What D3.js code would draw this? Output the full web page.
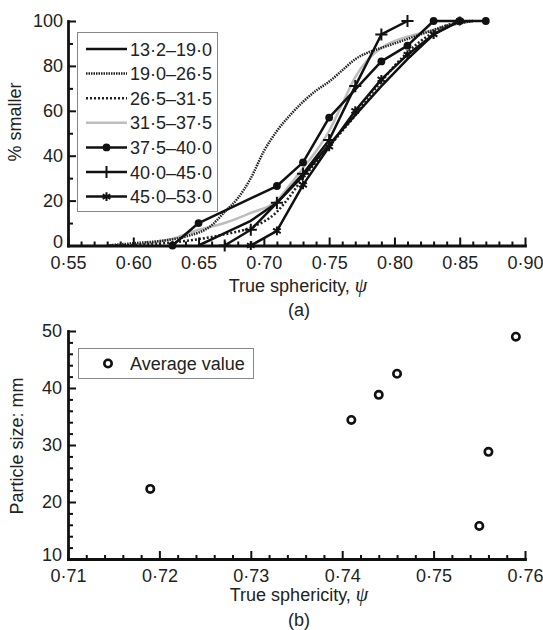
<!DOCTYPE html>
<html><head><meta charset="utf-8">
<script src="https://cdn.jsdelivr.net/npm/d3@7"></script>
<style>
body{margin:0;background:#fff}
text{font-family:Arial,"Liberation Sans",sans-serif;fill:#222}
</style>
</head><body>
<svg id="c" width="543" height="630"></svg>
<script>
// ---------- Data: panel (a) ----------
const legendLabels = ["13·2–19·0","19·0–26·5","26·5–31·5","31·5–37·5","37·5–40·0","40·0–45·0","45·0–53·0"];
const s1X = [0.65,0.67,0.69,0.71,0.73,0.75,0.77,0.79,0.81,0.83,0.85];
const s1Y = [0,5.5,11,19,31,45,58,71,83,94,100];
const s2X = [0.58,0.60,0.62,0.64,0.66,0.67,0.68,0.69,0.70,0.71,0.72,0.73,0.74,0.75,0.76,0.77,0.78,0.79,0.80,0.81,0.82,0.83,0.84,0.85,0.86];
const s2Y = [0,1,2,4,9,15,21,30,42,51,58,64,69,73,78,83,86,88,90,92,94,96,98,99,100];
const s3X = [0.58,0.61,0.64,0.67,0.69,0.71,0.72,0.73,0.74,0.75,0.76,0.77,0.78,0.79,0.80,0.81,0.82,0.83,0.84,0.85,0.86];
const s3Y = [0,0.5,2,5,8,15,22,30,37,44,51,58,66,73,80,86,91,95,98,99.5,100];
const s4X = [0.60,0.63,0.65,0.67,0.69,0.71,0.72,0.73,0.74,0.75,0.76,0.77,0.78,0.79,0.80,0.81,0.83,0.85,0.86];
const s4Y = [0,3,7,10,14.5,20,27,34.5,42,51,63,75,83,88,91,93,96,99,100];
const s5X = [0.63,0.65,0.71,0.73,0.75,0.79,0.81,0.83,0.85,0.87];
const s5Y = [0,10,26.5,37,57,82,89,100,100,100];
const s6X = [0.67,0.69,0.71,0.73,0.75,0.77,0.79,0.81];
const s6Y = [0,7,19,32,47,71,94,100];
const s7X = [0.69,0.71,0.73,0.75,0.77,0.79,0.81,0.83,0.85];
const s7Y = [0,6.5,27,44,60,74,85,94,100];
const xTicksA = [0.55,0.60,0.65,0.70,0.75,0.80,0.85,0.90];
const yTicksA = [0,20,40,60,80,100];

// ---------- Data: panel (b) ----------
const bX = [0.755,0.719,0.756,0.741,0.744,0.746,0.759];
const bY = [15.8,22.3,28.8,34.4,38.8,42.5,49.0];
const bLegend = "Average value";
const xTicksB = [0.71,0.72,0.73,0.74,0.75,0.76];
const yTicksB = [10,20,30,40,50];

// ---------- Styles ----------
const styles = [
  {stroke:"#111", dash:null, marker:null},
  {stroke:"#222", dash:"1.5 1", marker:null, curve:true},
  {stroke:"#222", dash:"2 2", marker:null, curve:true},
  {stroke:"#bdbdbd", dash:null, marker:null, curve:true},
  {stroke:"#111", dash:null, marker:"circle"},
  {stroke:"#111", dash:null, marker:"plus"},
  {stroke:"#111", dash:null, marker:"star"}
];
const seriesA = [[s1X,s1Y],[s2X,s2Y],[s3X,s3Y],[s4X,s4Y],[s5X,s5Y],[s6X,s6Y],[s7X,s7Y]];

const dotFmt = d => d3.format(".2f")(d).replace(".", "·");
const svg = d3.select("#c");
svg.append("rect").attr("width",543).attr("height",630).attr("fill","#fff");

function styleAxis(g){
  g.select(".domain").attr("stroke","#111").attr("stroke-width",2.8).attr("stroke-linecap","square");
  g.selectAll(".tick line").attr("stroke","#111").attr("stroke-width",2);
  g.selectAll(".tick text").attr("font-size",18).attr("fill","#222")
    .attr("font-family","Arial, 'Liberation Sans', sans-serif");
}
function minorAxis(g){
  g.select(".domain").remove();
  g.selectAll(".tick text").remove();
  g.selectAll(".tick line").attr("stroke","#111").attr("stroke-width",2);
}
function drawMarker(sel, type, x, y){
  if(type==="circle"){
    sel.append("circle").attr("cx",x).attr("cy",y).attr("r",3.9).attr("fill","#111");
  } else if(type==="plus"){
    sel.append("path").attr("d",d3.symbol(d3.symbolPlus,50)()).attr("transform",`translate(${x},${y})`)
      .attr("fill","none").attr("stroke","#111").attr("stroke-width",2);
  } else if(type==="star"){
    sel.append("path").attr("d",d3.symbol(d3.symbolAsterisk,55)()).attr("transform",`translate(${x},${y})`)
      .attr("fill","none").attr("stroke","#111").attr("stroke-width",2);
  }
}

// ================= Panel (a) =================
const xA = d3.scaleLinear([0.55,0.90],[68,525]);
const yA = d3.scaleLinear([0,100],[245.5,21]);
const gA = svg.append("g");

const minorXA = d3.range(55,91,1).map(v=>v/100).filter(v=>Math.round(v*100)%5!==0);
const minorYA = [10,30,50,70,90];
gA.append("g").attr("transform",`translate(0,${yA(0)})`)
  .call(d3.axisBottom(xA).tickValues(minorXA).tickSize(-4)).call(minorAxis);
gA.append("g").attr("transform",`translate(${xA(0.55)},0)`)
  .call(d3.axisLeft(yA).tickValues(minorYA).tickSize(-5)).call(minorAxis);

const lineGen = d3.line().x(d=>xA(d[0])).y(d=>yA(d[1]));
const lineCurve = d3.line().x(d=>xA(d[0])).y(d=>yA(d[1])).curve(d3.curveMonotoneX);

const drawOrder = [3,2,1,0,4,5,6];
drawOrder.forEach(i=>{
  const [xs,ys] = seriesA[i];
  const pts = xs.map((x,k)=>[x,ys[k]]);
  const st = styles[i];
  gA.append("path").attr("d",(st.curve?lineCurve:lineGen)(pts))
    .attr("fill","none").attr("stroke",st.stroke).attr("stroke-width",2.5)
    .attr("stroke-dasharray",st.dash).attr("stroke-linejoin","round");
  if(st.marker){
    const mg = gA.append("g");
    pts.forEach(p=>drawMarker(mg, st.marker, xA(p[0]), yA(p[1])));
  }
});

gA.append("g").attr("transform",`translate(0,${yA(0)})`)
  .call(d3.axisBottom(xA).tickValues(xTicksA).tickFormat(dotFmt).tickSize(-8).tickSizeOuter(0).tickPadding(11))
  .call(styleAxis);
const yAxA = gA.append("g").attr("transform",`translate(${xA(0.55)},0)`)
  .call(d3.axisLeft(yA).tickValues(yTicksA).tickFormat(d3.format("d")).tickSize(-8).tickSizeOuter(0).tickPadding(5))
  .call(styleAxis);
yAxA.selectAll(".tick text").filter(d=>d===0).attr("y",-4);

// legend (a)
const lgA = gA.append("g");
lgA.append("rect").attr("x",77.5).attr("y",32.5).attr("width",140).attr("height",179)
  .attr("fill","#fff").attr("stroke","#888").attr("stroke-width",1);
legendLabels.forEach((lab,i)=>{
  const y = 49 + i*24.6;
  const st = styles[i];
  lgA.append("line").attr("x1",86).attr("x2",127).attr("y1",y).attr("y2",y)
    .attr("stroke",st.stroke).attr("stroke-width",2.5).attr("stroke-dasharray",st.dash);
  if(st.marker) drawMarker(lgA, st.marker, 106.5, y);
  lgA.append("text").attr("x",130).attr("y",y+6.5).attr("font-size",18).text(lab);
});

// axis titles (a)
svg.append("text").attr("transform","translate(21,122) rotate(-90)").attr("text-anchor","middle")
  .attr("font-size",18).text("% smaller");
const tA = svg.append("text").attr("x",298).attr("y",292).attr("text-anchor","middle").attr("font-size",18);
tA.append("tspan").text("True sphericity, ");
tA.append("tspan").attr("font-style","italic").attr("font-family","'Liberation Serif', serif").attr("font-size",20).text("ψ");
svg.append("text").attr("x",299).attr("y",316).attr("text-anchor","middle").attr("font-size",18).text("(a)");

// ================= Panel (b) =================
const xB = d3.scaleLinear([0.71,0.76],[68,525]);
const yB = d3.scaleLinear([10,50],[559,331]);
const gB = svg.append("g");

const minorXB = d3.range(710,761,2).map(v=>v/1000).filter(v=>Math.round(v*1000)%10!==0);
const minorYB = d3.range(10,51,2).filter(v=>v%10!==0);
gB.append("g").attr("transform",`translate(0,${yB(10)})`)
  .call(d3.axisBottom(xB).tickValues(minorXB).tickSize(-4)).call(minorAxis);
gB.append("g").attr("transform",`translate(${xB(0.71)},0)`)
  .call(d3.axisLeft(yB).tickValues(minorYB).tickSize(-5)).call(minorAxis);

gB.append("g").attr("transform",`translate(0,${yB(10)})`)
  .call(d3.axisBottom(xB).tickValues(xTicksB).tickFormat(dotFmt).tickSize(-8).tickSizeOuter(0).tickPadding(10))
  .call(styleAxis);
const yAxB = gB.append("g").attr("transform",`translate(${xB(0.71)},0)`)
  .call(d3.axisLeft(yB).tickValues(yTicksB).tickFormat(d3.format("d")).tickSize(-8).tickSizeOuter(0).tickPadding(6))
  .call(styleAxis);
yAxB.selectAll(".tick text").filter(d=>d===10).attr("y",-4);

gB.selectAll("circle.pt").data(bX.map((x,i)=>[x,bY[i]])).join("circle").attr("class","pt")
  .attr("cx",d=>xB(d[0])).attr("cy",d=>yB(d[1])).attr("r",3.7)
  .attr("fill","#fff").attr("stroke","#111").attr("stroke-width",2.6);

// legend (b)
gB.append("rect").attr("x",78.5).attr("y",348.5).attr("width",175).attr("height",30)
  .attr("fill","#fff").attr("stroke","#888").attr("stroke-width",1);
gB.append("circle").attr("cx",108).attr("cy",363.5).attr("r",3.7)
  .attr("fill","#fff").attr("stroke","#111").attr("stroke-width",2.6);
gB.append("text").attr("x",130).attr("y",370).attr("font-size",18).text(bLegend);

// axis titles (b)
svg.append("text").attr("transform","translate(23,446) rotate(-90)").attr("text-anchor","middle")
  .attr("font-size",18).text("Particle size: mm");
const tB = svg.append("text").attr("x",299).attr("y",601).attr("text-anchor","middle").attr("font-size",18);
tB.append("tspan").text("True sphericity, ");
tB.append("tspan").attr("font-style","italic").attr("font-family","'Liberation Serif', serif").attr("font-size",20).text("ψ");
svg.append("text").attr("x",299).attr("y",626).attr("text-anchor","middle").attr("font-size",18).text("(b)");
</script>
</body></html>
